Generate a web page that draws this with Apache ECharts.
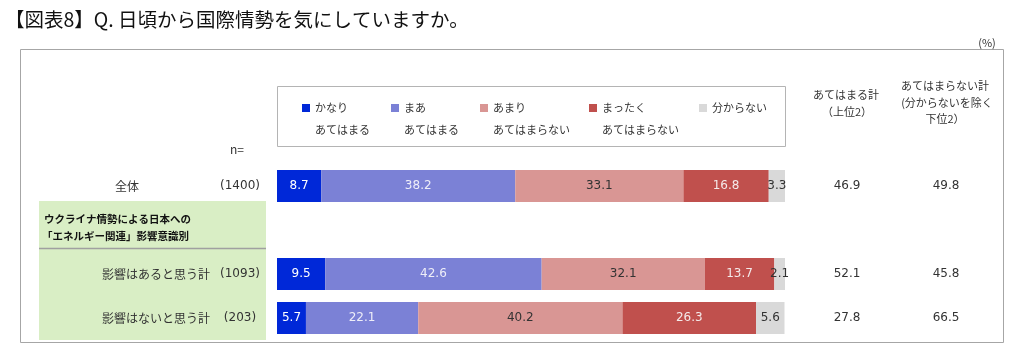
<!DOCTYPE html>
<html>
<head>
<meta charset="utf-8">
<script src="https://cdn.jsdelivr.net/npm/echarts@6/dist/echarts.min.js"></script>
<style>
  html, body { margin: 0; padding: 0; background: #fff; }
  #main { width: 1024px; height: 352px; }
</style>
</head>
<body>
<div id="main"></div>
<script>
const chart = echarts.init(document.querySelector('#main'))

const JP = '"Noto Sans CJK JP", "Noto Sans", sans-serif'
const NUM = '"DejaVu Sans", Verdana, sans-serif'

// rows (index 1 is the empty row under the group heading)
const ROWS = ['全体', '', '影響はあると思う計', '影響はないと思う計']
const ROW_N = ['(1400)', '', '(1093)', '(203)']

const KANARI = [8.7, null, 9.5, 5.7]
const MAA = [38.2, null, 42.6, 22.1]
const AMARI = [33.1, null, 32.1, 40.2]
const MATTAKU = [16.8, null, 13.7, 26.3]
const WAKARANAI = [3.3, null, 2.1, 5.6]

const TOP2 = [46.9, null, 52.1, 27.8]
const BOTTOM2 = [49.8, null, 45.8, 66.5]

const LEGEND_1 = ['かなり', 'まあ', 'あまり', 'まったく', '分からない']
const LEGEND_2 = ['あてはまる', 'あてはまる', 'あてはまらない', 'あてはまらない', '']
const LEGEND_X = [302, 391, 480, 589, 699]

const COLORS = ['#0028d8', '#7b81d6', '#d99694', '#c0504d', '#d9d9d9']
const LABEL_COLORS = ['#ffffff', '#eeeef8', '#333333', '#f4eaea', '#333333']
const SERIES_DATA = [KANARI, MAA, AMARI, MATTAKU, WAKARANAI]

let series = LEGEND_1.map((name, i) => {
  return {
    name: name,
    type: 'bar',
    stack: 'total',
    barWidth: 32,
    data: SERIES_DATA[i],
    itemStyle: { color: COLORS[i] },
    label: {
      show: true,
      position: 'inside',
      color: LABEL_COLORS[i],
      fontFamily: NUM,
      fontSize: 12
    },
    emphasis: { disabled: true }
  }
})

let legends = LEGEND_1.map((name, i) => {
  return {
    data: [name],
    left: LEGEND_X[i],
    top: 101,
    padding: 0,
    icon: 'rect',
    itemWidth: 8,
    itemHeight: 8,
    itemGap: 4,
    itemTextGap: 5,
    selectedMode: false,
    textStyle: { fontFamily: JP, fontSize: 11, color: '#333', lineHeight: 14 }
  }
})

let graphics = [
  // outer frame
  { type: 'rect', shape: { x: 20.5, y: 49.5, width: 983, height: 293 }, style: { fill: null, stroke: '#a6a6a6', lineWidth: 1 }, z: -2 },
  // legend box
  { type: 'rect', shape: { x: 277.5, y: 86.5, width: 508, height: 60 }, style: { fill: '#fff', stroke: '#b4b4b4', lineWidth: 1 }, z: -1 },
  // green panel
  { type: 'rect', shape: { x: 39, y: 201, width: 227, height: 139 }, style: { fill: '#d9eec5' }, z: -1 },
  { type: 'line', shape: { x1: 39, y1: 248.5, x2: 266, y2: 248.5 }, style: { stroke: '#a0a0a0', lineWidth: 1.5 }, z: -1 },
  // title
  { type: 'text', left: 5, top: 10, style: { text: '【図表8】Q. 日頃から国際情勢を気にしていますか。', font: '19.5px ' + JP, fill: '#111' } },
  { type: 'text', x: 987, y: 43, style: { text: '(%)', font: '11px ' + JP, fill: '#333', align: 'center', verticalAlign: 'middle' } },
  { type: 'text', x: 237, y: 149, style: { text: 'n=', font: '12px ' + JP, fill: '#333', align: 'center', verticalAlign: 'middle' } },
  { type: 'text', x: 44, y: 219, style: { text: 'ウクライナ情勢による日本への', font: 'bold 10.5px ' + JP, fill: '#111', verticalAlign: 'middle' } },
  { type: 'text', x: 42, y: 236, style: { text: '「エネルギー関連」影響意識別', font: 'bold 10.5px ' + JP, fill: '#111', verticalAlign: 'middle' } },
  // column headers
  { type: 'text', x: 846, y: 95, style: { text: 'あてはまる計', font: '11px ' + JP, fill: '#333', align: 'center', verticalAlign: 'middle' } },
  { type: 'text', x: 847, y: 112, style: { text: '（上位2）', font: '11px ' + JP, fill: '#333', align: 'center', verticalAlign: 'middle' } },
  { type: 'text', x: 945, y: 86, style: { text: 'あてはまらない計', font: '11px ' + JP, fill: '#333', align: 'center', verticalAlign: 'middle' } },
  { type: 'text', x: 947, y: 103, style: { text: '(分からないを除く', font: '11px ' + JP, fill: '#333', align: 'center', verticalAlign: 'middle' } },
  { type: 'text', x: 945, y: 119, style: { text: '下位2）', font: '11px ' + JP, fill: '#333', align: 'center', verticalAlign: 'middle' } }
]

LEGEND_2.forEach((t, i) => {
  if (t) {
    graphics.push({ type: 'text', x: LEGEND_X[i] + 13, y: 130, style: { text: t, font: '11px ' + JP, fill: '#333', verticalAlign: 'middle' } })
  }
})

chart.setOption({
  animation: false,
  legend: legends,
  grid: { left: 277, top: 164, width: 508, height: 176, containLabel: false },
  xAxis: {
    type: 'value',
    min: 0,
    max: 100,
    show: false
  },
  yAxis: [
    {
      // n column
      type: 'category',
      data: ROWS,
      inverse: true,
      position: 'left',
      axisLine: { show: false },
      axisTick: { show: false },
      axisLabel: {
        margin: 13,
        formatter (value, index) {
          return ROW_N[index] ? '{n|' + ROW_N[index] + '}' : ''
        },
        rich: {
          n: { width: 48, align: 'center', fontFamily: NUM, fontSize: 12, color: '#333' }
        }
      }
    },
    {
      // row names
      type: 'category',
      data: ROWS,
      inverse: true,
      position: 'left',
      offset: 65,
      axisLine: { show: false },
      axisTick: { show: false },
      axisLabel: {
        margin: 2,
        fontFamily: JP,
        fontSize: 12,
        color: '#333',
        formatter (value, index) {
          if (!value) return ''
          return index === 0 ? '{c|' + value + '}' : value
        },
        rich: {
          c: { width: 166, align: 'center', fontFamily: JP, fontSize: 12, color: '#333' }
        }
      }
    },
    {
      type: 'category',
      data: ROWS,
      inverse: true,
      position: 'right',
      axisLine: { show: false },
      axisTick: { show: false },
      axisLabel: {
        margin: 5,
        formatter (value, index) {
          if (TOP2[index] == null) return ''
          return '{a|' + TOP2[index].toFixed(1) + '}{b|' + BOTTOM2[index].toFixed(1) + '}'
        },
        rich: {
          a: { width: 114, align: 'center', fontFamily: NUM, fontSize: 12, color: '#333' },
          b: { width: 84, align: 'center', fontFamily: NUM, fontSize: 12, color: '#333' }
        }
      }
    }
  ],
  series: series,
  graphic: graphics
})
</script>
</body>
</html>
